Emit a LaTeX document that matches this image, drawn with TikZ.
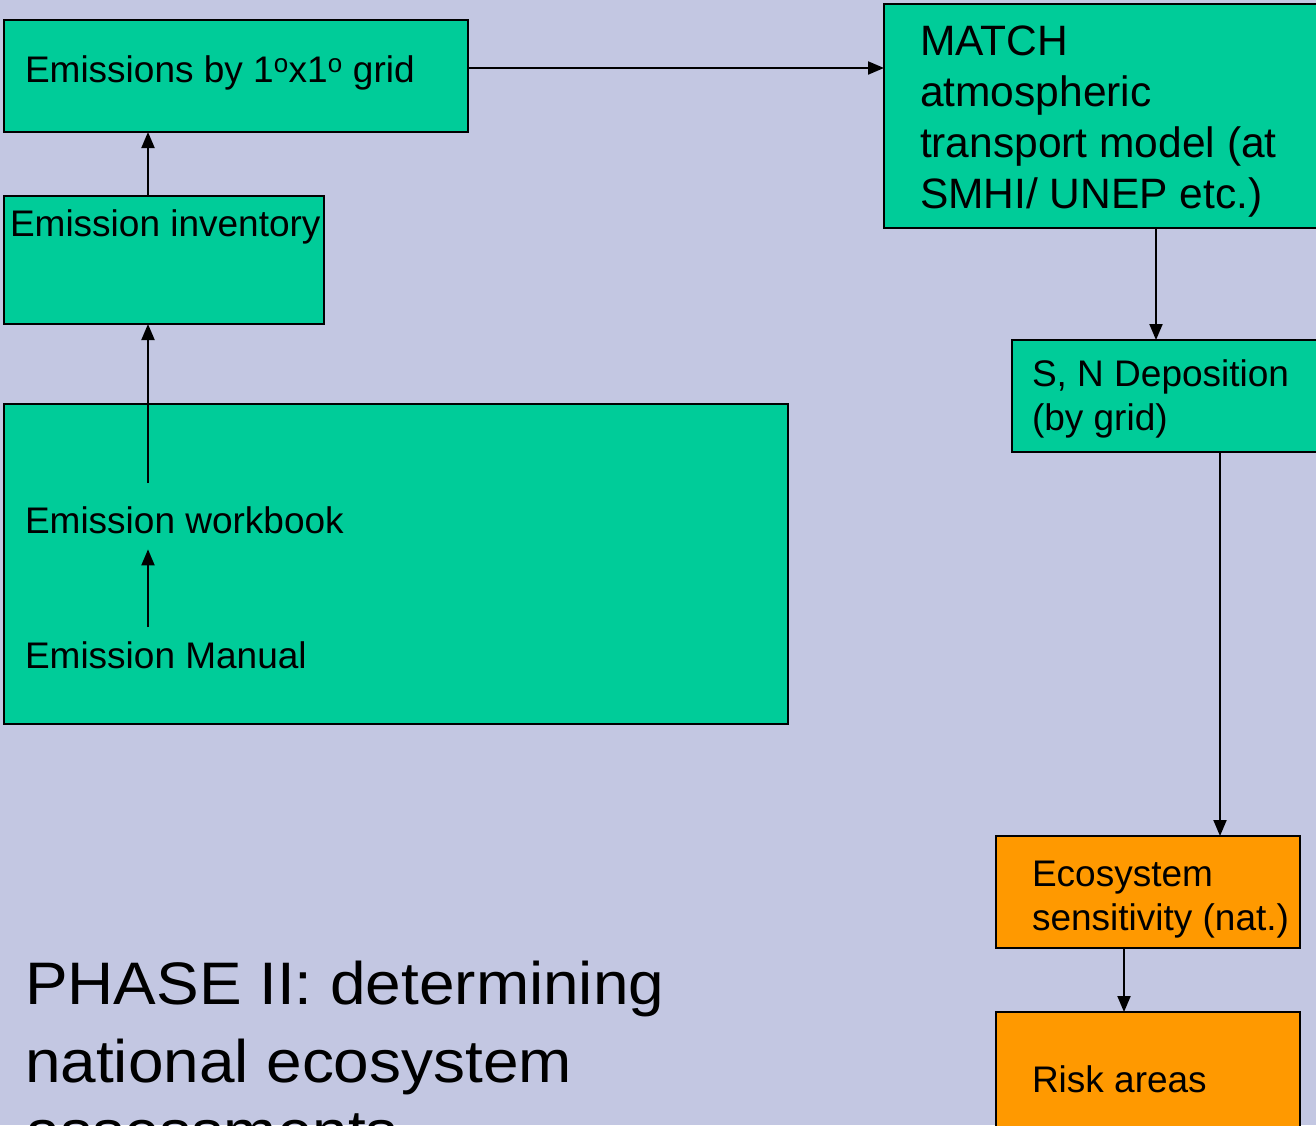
\documentclass[tikz,border=0pt]{standalone}
\usepackage{fontspec}
\setmainfont{Liberation Sans}
\usetikzlibrary{arrows.meta}
\definecolor{slidebg}{RGB}{195,199,226}
\definecolor{boxgreen}{RGB}{0,204,153}
\definecolor{boxorange}{RGB}{255,153,0}
\tikzset{
  panel/.style={draw=black, line width=1.8pt, anchor=north west, inner sep=0pt, outer sep=0pt},
  greenpanel/.style={panel, fill=boxgreen},
  orangepanel/.style={panel, fill=boxorange},
  label37/.style={anchor=base west, inner sep=0pt, outer sep=0pt, font=\fontsize{37}{46}\selectfont},
  label42/.style={anchor=base west, inner sep=0pt, outer sep=0pt, font=\fontsize{42.5}{51}\selectfont},
  title60/.style={anchor=base west, inner sep=0pt, outer sep=0pt, xscale=1.065, font=\fontsize{60}{78}\selectfont},
  flow/.style={draw=black, line width=2pt, -{Triangle[length=16pt,width=13pt]}}
}
\begin{document}
\begin{tikzpicture}[x=1pt, y=-1pt]
  \useasboundingbox (0,0) rectangle (1316,1125);
  \clip (0,0) rectangle (1316,1125);
  \fill[slidebg] (0,0) rectangle (1316,1125);

  % left column: emission chain
  \node[greenpanel, minimum width=464pt, minimum height=112pt] (grid) at (4,20) {};
  \node[label37] (gridtxt) at (25,82) {Emissions by 1\textsuperscript{o}x1\textsuperscript{o} grid};

  \node[greenpanel, minimum width=320pt, minimum height=128pt] (inv) at (4,196) {};
  \node[label37] (invtxt) at (10,236) {Emission inventory};

  \node[greenpanel, minimum width=784pt, minimum height=320pt] (work) at (4,404) {};
  \node[label37] (workbook) at (25,533) {Emission workbook};
  \node[label37] (manual) at (25,668) {Emission Manual};

  \coordinate (spine) at (148,0);
  \draw[flow] (spine |- inv.north) -- (spine |- grid.south);
  \draw[flow, shorten <=23pt] (spine |- workbook.north) -- (spine |- inv.south);
  \draw[flow, shorten <=14pt, shorten >=16pt] (spine |- manual.north) -- (spine |- workbook.south);

  % right column: transport and effects
  \node[greenpanel, minimum width=440pt, minimum height=224pt] (match) at (884,4) {};
  \node[label42] (m1) at (920,55) {MATCH};
  \node[label42] (m2) at (920,106) {atmospheric};
  \node[label42] (m3) at (920,157) {transport model (at};
  \node[label42] (m4) at (920,208) {SMHI/ UNEP etc.)};

  \node[greenpanel, minimum width=320pt, minimum height=112pt] (dep) at (1012,340) {};
  \node[label37] (d1) at (1032,386) {S, N Deposition};
  \node[label37] (d2) at (1032,430) {(by grid)};

  \node[orangepanel, minimum width=304pt, minimum height=112pt] (eco) at (996,836) {};
  \node[label37] (e1) at (1032,886) {Ecosystem};
  \node[label37] (e2) at (1032,930) {sensitivity (nat.)};

  \node[orangepanel, minimum width=304pt, minimum height=130pt] (risk) at (996,1012) {};
  \node[label37] (r1) at (1032,1092) {Risk areas};

  \coordinate (depx) at (1156,0);
  \coordinate (ecox) at (1220,0);
  \coordinate (riskx) at (1124,0);
  \draw[flow] (grid.east |- 0,68) -- (match.west |- 0,68);
  \draw[flow] (depx |- match.south) -- (depx |- dep.north);
  \draw[flow] (ecox |- dep.south) -- (ecox |- eco.north);
  \draw[flow] (riskx |- eco.south) -- (riskx |- risk.north);

  % heading
  \node[title60] (t1) at (25,1004) {PHASE II: determining};
  \node[title60] (t2) at (25,1082) {national ecosystem};
  \node[title60] (t3) at (25,1152) {assessments};
\end{tikzpicture}
\end{document}
